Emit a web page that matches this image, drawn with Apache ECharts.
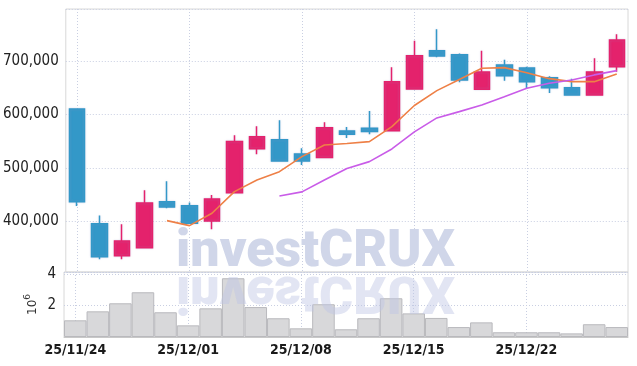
<!DOCTYPE html>
<html><head><meta charset="utf-8">
<script src="https://cdn.jsdelivr.net/npm/echarts@6/dist/echarts.min.js"></script>
<style>html,body{margin:0;padding:0;background:#fff}#c{width:637px;height:366px}</style>
</head><body><div id="c"></div>
<script>
const dates = ['25/11/24','25/11/25','25/11/26','25/11/27','25/11/28',
  '25/12/01','25/12/02','25/12/03','25/12/04','25/12/05',
  '25/12/08','25/12/09','25/12/10','25/12/11','25/12/12',
  '25/12/15','25/12/16','25/12/17','25/12/18','25/12/19',
  '25/12/22','25/12/23','25/12/24','25/12/25','25/12/26'];
const openP  = [610300,395900,336100,351000,437000,429500,400900,453800,536100,552900,526200,519300,569200,574200,569700,647700,719200,711800,647100,692500,686900,668800,650100,636400,689300];
const closeP = [437000,334200,363600,434600,427100,396700,442100,549200,558500,513100,513100,575300,563000,567900,661300,709900,709300,664500,679400,672500,661300,650100,636400,679400,739200];
const lowP   = [429000,329400,329400,351000,424700,395300,385400,453800,525600,513100,505600,518100,556100,563000,569700,647700,706900,660200,647100,663200,649000,640200,635200,636400,680000];
const highP  = [610300,410900,394800,458300,475100,435200,449500,561100,578000,589200,536800,585400,576600,606500,688200,737900,759200,713700,719200,702400,689300,671400,666900,705000,749900];
const ma5  = [null,null,null,null,401500,392200,415300,455700,477600,493100,521100,543000,545800,549200,577200,616800,644500,665400,686400,687500,678100,666900,661300,661300,675700];
const ma10 = [null,null,null,null,null,null,null,null,null,447700,455200,477600,499100,511800,535500,567300,593500,605300,617800,633300,649000,658400,664500,673900,681900];
const volume = [1060000,1630000,2140000,2840000,1570000,740000,1820000,3730000,1900000,1190000,550000,2080000,490000,1190000,2460000,1500000,1210000,630000,930000,300000,300000,300000,230000,810000,630000];

const UP = '#e4226c', DOWN = '#3398c8';
const FONT = "'Liberation Sans Narrow','DejaVu Sans Condensed',sans-serif";
const candles = openP.map((o,i)=>[o, closeP[i], lowP[i], highP[i]]);

const chart = echarts.init(document.getElementById('c'));
const gridLine = {show:true, lineStyle:{color:'#c9cfe2', type:[1,2], width:1}};
chart.setOption({
  animation:false,
  grid:[
    {left:64, right:9, top:9, height:263, show:true, borderColor:'#d8d8d8', borderWidth:1},
    {left:64, right:9, top:272, height:65, show:true, borderColor:'#d8d8d8', borderWidth:1}
  ],
  xAxis:[
    {type:'category', gridIndex:0, data:dates, boundaryGap:true,
     axisLine:{show:false}, axisTick:{show:false}, axisLabel:{show:false},
     splitLine:Object.assign({interval:4, alignWithLabel:true}, gridLine)},
    {type:'category', gridIndex:1, data:dates, boundaryGap:true,
     axisLine:{show:true, lineStyle:{color:'#c8c8c8'}}, axisTick:{show:false},
     axisLabel:{interval:4, color:'#1a1a1a', fontFamily:FONT, fontSize:14, fontWeight:'bold', margin:6},
     splitLine:Object.assign({interval:4, alignWithLabel:true}, gridLine)}
  ],
  yAxis:[
    {type:'value', gridIndex:0, min:305500, max:797100, scale:true,
     axisLine:{show:false}, axisTick:{show:false},
     axisLabel:{showMinLabel:false, showMaxLabel:false, color:'#222', fontFamily:FONT, fontSize:15, margin:7,
       formatter:v=>v.toLocaleString('en-US')},
     splitLine:gridLine},
    {type:'value', gridIndex:1, min:0, max:4127000, interval:2000000,
     name:'{b|10}{s|6}', nameLocation:'middle', nameRotate:90, nameGap:25, nameMoveOverlap:false,
     nameTextStyle:{rich:{b:{fontFamily:'DejaVu Sans', fontSize:12, color:'#333', lineHeight:16, verticalAlign:'bottom'},
                          s:{fontFamily:'DejaVu Sans', fontSize:9, color:'#333', lineHeight:16, verticalAlign:'top'}}},
     axisLine:{show:false}, axisTick:{show:false},
     axisLabel:{showMinLabel:false, showMaxLabel:false, color:'#222', fontFamily:FONT, fontSize:15, margin:8,
       formatter:v=>String(v/1000000)},
     splitLine:gridLine}
  ],
  series:[
    {type:'candlestick', xAxisIndex:0, yAxisIndex:0, data:candles, barWidth:16,
     itemStyle:{color:UP, color0:DOWN, borderColor:UP, borderColor0:DOWN, borderWidth:1.5,
       shadowBlur:2, shadowColor:'rgba(150,150,200,0.35)'}},
    {type:'line', xAxisIndex:0, yAxisIndex:0, data:ma5, showSymbol:false, symbol:'none',
     lineStyle:{color:'#ee8047', width:1.6}},
    {type:'line', xAxisIndex:0, yAxisIndex:0, data:ma10, showSymbol:false, symbol:'none',
     lineStyle:{color:'#c95ce8', width:1.6}},
    {type:'bar', xAxisIndex:1, yAxisIndex:1, data:volume, barWidth:'100%', barGap:'0%', barCategoryGap:'0%',
     itemStyle:{color:'#d8d8da', borderColor:'#b9b9bd', borderWidth:1}}
  ],
  graphic:[
    {type:'text', x:176, y:253, z:100, silent:true,
     style:{text:'investCRUX', font:"900 52px Roboto", fill:'#d0d6e9', verticalAlign:'middle'}},
    {type:'text', x:176, y:290, scaleY:-1, z:100, silent:true,
     style:{text:'investCRUX', font:"900 52px Roboto", fill:'rgba(190,198,228,0.45)', verticalAlign:'middle'}}
  ]
});
</script></body></html>
